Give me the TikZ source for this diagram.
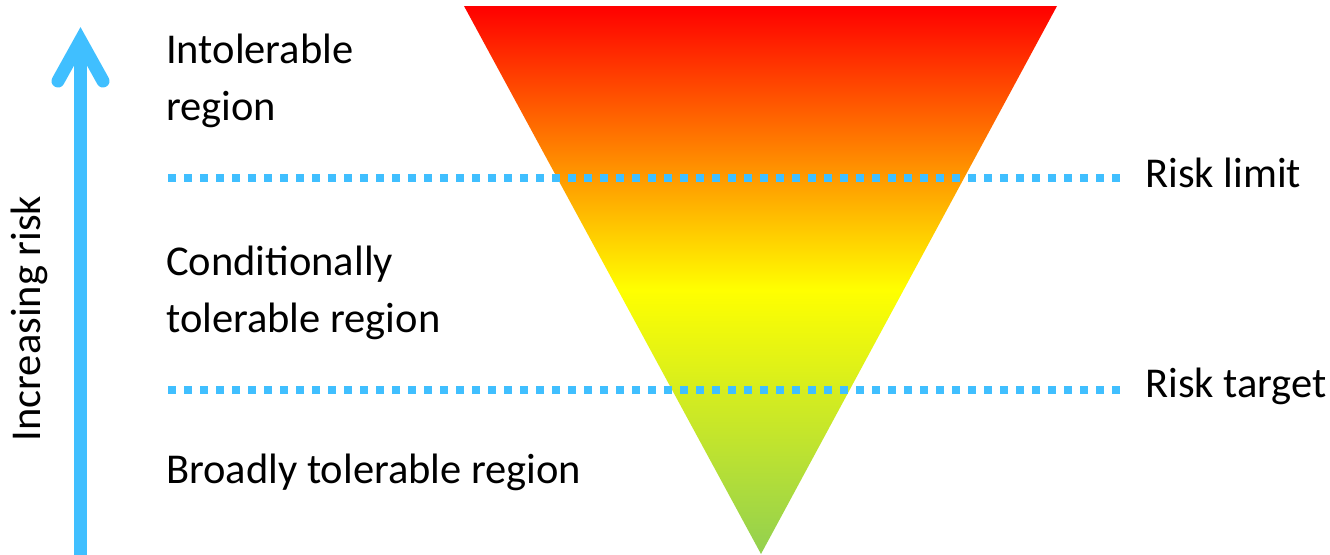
\documentclass[tikz,border=0pt]{standalone}
\usepackage{fontspec}
\setmainfont{Carlito}
\definecolor{riskblue}{HTML}{40BFFF}
\definecolor{riskred}{HTML}{FF0000}
\definecolor{riskyellow}{HTML}{FFFF00}
\definecolor{riskgreen}{HTML}{92D050}
% red at the top, yellow a little above the middle, green at the tip
\pgfdeclareverticalshading{riskramp}{100bp}{%
  color(0bp)=(riskgreen); color(25bp)=(riskgreen);
  color(49.1bp)=(riskyellow);
  color(75bp)=(riskred); color(100bp)=(riskred)}
\newcommand{\lblfont}{\fontsize{42.5}{42.5}\selectfont}
\tikzset{
  lbl/.style={anchor=base west, inner sep=0pt, font=\lblfont},
  limitline/.style={draw=riskblue, line width=8pt, dash pattern=on 8pt off 8pt},
  riskarrow/.style={draw=riskblue, line width=13pt},
}
\begin{document}
\begin{tikzpicture}[x=1pt, y=-1pt]
  \useasboundingbox (0,0) rectangle (1330,554);

  % funnel of risk
  \shade[shading=riskramp] (464,6) -- (1057,6) -- (761,554) -- cycle;

  % risk thresholds
  \coordinate (limA) at (168,178);
  \coordinate (limB) at (1124,178);
  \coordinate (tgtA) at (168,390);
  \coordinate (tgtB) at (1124,390);
  \draw[limitline] (limA) -- (limB);
  \draw[limitline] (tgtA) -- (tgtB);

  % rising risk axis
  \coordinate (axisFoot) at (80.5,560);
  \coordinate (axisTip) at (80.5,40.5);
  \coordinate (wingL) at (58,81);
  \coordinate (wingR) at (103,81);
  \draw[riskarrow] (axisFoot) -- (axisTip);
  \draw[riskarrow, line cap=round, line join=miter] (wingL) -- (axisTip) -- (wingR);

  \node[anchor=base, inner sep=0pt, rotate=90, font=\lblfont]
    (axislabel) at (40,318.5) {Increasing risk};

  % region labels
  \node[lbl] (intol1) at (166,63) {Intolerable};
  \node[lbl] (intol2) at (166,120) {region};
  \node[lbl] (cond1) at (166,275) {Conditionally};
  \node[lbl] (cond2) at (166,332) {tolerable region};
  \node[lbl] (broad) at (166,483) {Broadly tolerable region};

  % threshold labels
  \node[lbl] (limit) at (1145,187) {Risk limit};
  \node[lbl] (target) at (1145,397) {Risk target};
\end{tikzpicture}
\end{document}
